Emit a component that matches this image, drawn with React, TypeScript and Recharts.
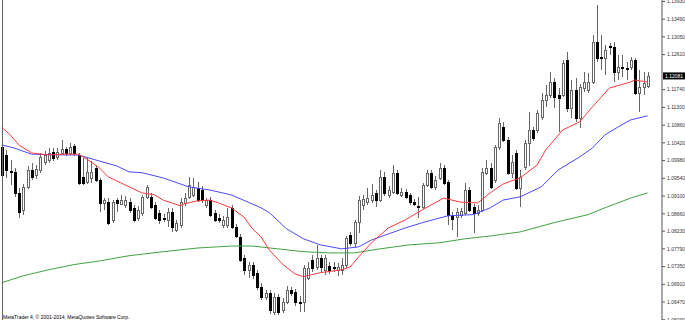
import { ComposedChart, Bar, Line, XAxis, YAxis, ReferenceLine } from 'recharts'

// daily candles, oldest first
const opens = [
  1.1032, 1.1012, 1.0973, 1.0970, 1.0918, 1.0876, 1.0933, 1.0975, 1.0963, 1.0975,
  1.0995, 1.1000, 1.1019, 1.1007, 1.1017, 1.1027, 1.1017, 1.1034, 1.1012, 1.0958,
  1.0945, 1.0955, 1.0980, 1.0950, 1.0893, 1.0895, 1.0851, 1.0900, 1.0890, 1.0888,
  1.0895, 1.0881, 1.0856, 1.0869, 1.0908, 1.0908, 1.0888, 1.0869, 1.0856, 1.0851,
  1.0871, 1.0826, 1.0839, 1.0893, 1.0908, 1.0913, 1.0930, 1.0925, 1.0888, 1.0900,
  1.0869, 1.0856, 1.0839, 1.0839, 1.0881, 1.0834, 1.0809, 1.0757, 1.0727, 1.0740,
  1.0720, 1.0685, 1.0660, 1.0670, 1.0623, 1.0660, 1.0628, 1.0646, 1.0677, 1.0672,
  1.0648, 1.0646, 1.0707, 1.0752, 1.0735, 1.0757, 1.0727, 1.0737, 1.0735, 1.0727,
  1.0727, 1.0740, 1.0814, 1.0794, 1.0846, 1.0888, 1.0895, 1.0900, 1.0918, 1.0900,
  1.0958, 1.0913, 1.0920, 1.0968, 1.0913, 1.0920, 1.0913, 1.0895, 1.0886, 1.0883,
  1.0938, 1.0968, 1.0933, 1.0955, 1.0980, 1.0945, 1.0864, 1.0859, 1.0864, 1.0869,
  1.0925, 1.0883, 1.0869, 1.0876, 1.0968, 1.0980, 1.0950, 1.1032, 1.1081, 1.1049,
  1.0968, 1.1017, 1.0930, 1.0983, 1.1042, 1.1074, 1.1074, 1.1106, 1.1148, 1.1161,
  1.1193, 1.1161, 1.1161, 1.1247, 1.1129, 1.1173, 1.1104, 1.1178, 1.1173, 1.1193,
  1.1292, 1.1255, 1.1252, 1.1282, 1.1279, 1.1218, 1.1230, 1.1228, 1.1230, 1.1247,
  1.1166, 1.1181, 1.1183,
]
const closes = [
  1.0963, 1.0975, 1.0970, 1.0918, 1.0871, 1.0933, 1.0975, 1.0958, 1.0978, 1.1007,
  1.1012, 1.1017, 1.1005, 1.1019, 1.1027, 1.1017, 1.1032, 1.1017, 1.0943, 1.0943,
  1.0970, 1.0970, 1.0950, 1.0893, 1.0900, 1.0844, 1.0895, 1.0893, 1.0900, 1.0900,
  1.0876, 1.0851, 1.0876, 1.0908, 1.0933, 1.0883, 1.0856, 1.0851, 1.0854, 1.0871,
  1.0834, 1.0844, 1.0895, 1.0905, 1.0938, 1.0933, 1.0900, 1.0900, 1.0900, 1.0864,
  1.0851, 1.0851, 1.0851, 1.0859, 1.0834, 1.0811, 1.0752, 1.0727, 1.0740, 1.0715,
  1.0685, 1.0660, 1.0670, 1.0628, 1.0660, 1.0623, 1.0646, 1.0677, 1.0670, 1.0646,
  1.0646, 1.0732, 1.0732, 1.0732, 1.0757, 1.0735, 1.0757, 1.0727, 1.0732, 1.0735,
  1.0740, 1.0806, 1.0794, 1.0846, 1.0900, 1.0903, 1.0905, 1.0913, 1.0900, 1.0958,
  1.0918, 1.0925, 1.0968, 1.0918, 1.0920, 1.0908, 1.0895, 1.0890, 1.0883, 1.0938,
  1.0968, 1.0933, 1.0950, 1.0980, 1.0943, 1.0864, 1.0854, 1.0871, 1.0873, 1.0925,
  1.0876, 1.0869, 1.0876, 1.0970, 1.0980, 1.0933, 1.1032, 1.1091, 1.1049, 1.0968,
  1.0995, 1.0930, 1.0958, 1.1042, 1.1074, 1.1054, 1.1116, 1.1148, 1.1161, 1.1193,
  1.1156, 1.1153, 1.1240, 1.1129, 1.1173, 1.1104, 1.1181, 1.1193, 1.1193, 1.1292,
  1.1252, 1.1252, 1.1272, 1.1279, 1.1218, 1.1230, 1.1228, 1.1225, 1.1247, 1.1166,
  1.1181, 1.1190, 1.1208,
]
const highs = [
  1.1042, 1.1024, 1.1000, 1.0980, 1.0930, 1.0940, 1.0985, 1.0993, 1.0988, 1.1017,
  1.1022, 1.1029, 1.1029, 1.1029, 1.1049, 1.1032, 1.1042, 1.1039, 1.1017, 1.1005,
  1.1005, 1.0998, 1.0985, 1.0955, 1.0905, 1.0905, 1.0900, 1.0905, 1.0912, 1.0910,
  1.0905, 1.0888, 1.0886, 1.0912, 1.0938, 1.0918, 1.0895, 1.0876, 1.0866, 1.0881,
  1.0881, 1.0851, 1.0905, 1.0918, 1.0958, 1.0955, 1.0945, 1.0935, 1.0905, 1.0908,
  1.0876, 1.0866, 1.0861, 1.0881, 1.0888, 1.0841, 1.0816, 1.0764, 1.0747, 1.0747,
  1.0727, 1.0695, 1.0677, 1.0677, 1.0670, 1.0667, 1.0658, 1.0687, 1.0685, 1.0680,
  1.0662, 1.0740, 1.0747, 1.0764, 1.0788, 1.0764, 1.0764, 1.0747, 1.0747, 1.0745,
  1.0757, 1.0811, 1.0821, 1.0851, 1.0910, 1.0913, 1.0930, 1.0940, 1.0925, 1.0975,
  1.0970, 1.0935, 1.0988, 1.0975, 1.0930, 1.0928, 1.0918, 1.0903, 1.0908, 1.0943,
  1.0975, 1.0975, 1.0960, 1.0993, 1.0988, 1.0950, 1.0871, 1.0881, 1.0881, 1.0943,
  1.0933, 1.0890, 1.0888, 1.0980, 1.1000, 1.0993, 1.1037, 1.1104, 1.1094, 1.1056,
  1.1012, 1.1024, 1.0975, 1.1049, 1.1119, 1.1081, 1.1124, 1.1166, 1.1186, 1.1218,
  1.1203, 1.1178, 1.1247, 1.1267, 1.1198, 1.1203, 1.1188, 1.1218, 1.1215, 1.1309,
  1.1384, 1.1309, 1.1284, 1.1289, 1.1292, 1.1260, 1.1260, 1.1242, 1.1255, 1.1252,
  1.1223, 1.1218, 1.1218,
]
const lows = [
  1.0955, 1.0955, 1.0938, 1.0908, 1.0856, 1.0864, 1.0928, 1.0950, 1.0953, 1.0968,
  1.0988, 1.0993, 1.0998, 1.1000, 1.1012, 1.1010, 1.1012, 1.1010, 1.0938, 1.0938,
  1.0940, 1.0943, 1.0945, 1.0871, 1.0876, 1.0839, 1.0844, 1.0871, 1.0888, 1.0881,
  1.0869, 1.0846, 1.0849, 1.0861, 1.0903, 1.0878, 1.0851, 1.0841, 1.0846, 1.0834,
  1.0821, 1.0821, 1.0831, 1.0886, 1.0903, 1.0908, 1.0895, 1.0893, 1.0881, 1.0859,
  1.0846, 1.0844, 1.0831, 1.0831, 1.0829, 1.0806, 1.0747, 1.0715, 1.0707, 1.0705,
  1.0677, 1.0653, 1.0653, 1.0618, 1.0616, 1.0616, 1.0621, 1.0641, 1.0662, 1.0638,
  1.0623, 1.0623, 1.0702, 1.0722, 1.0727, 1.0722, 1.0715, 1.0717, 1.0722, 1.0712,
  1.0715, 1.0732, 1.0786, 1.0781, 1.0818, 1.0876, 1.0888, 1.0893, 1.0883, 1.0895,
  1.0910, 1.0905, 1.0915, 1.0913, 1.0908, 1.0903, 1.0888, 1.0886, 1.0856, 1.0878,
  1.0933, 1.0928, 1.0925, 1.0950, 1.0938, 1.0839, 1.0826, 1.0809, 1.0856, 1.0864,
  1.0871, 1.0818, 1.0861, 1.0871, 1.0963, 1.0928, 1.0943, 1.1024, 1.1044, 1.0963,
  1.0955, 1.0925, 1.0883, 1.0975, 1.0985, 1.1047, 1.1067, 1.1099, 1.1131, 1.1153,
  1.1129, 1.1069, 1.1156, 1.1119, 1.1104, 1.1094, 1.1079, 1.1168, 1.1166, 1.1188,
  1.1242, 1.1223, 1.1210, 1.1260, 1.1193, 1.1198, 1.1205, 1.1198, 1.1223, 1.1161,
  1.1119, 1.1161, 1.1178,
]

// moving averages, read at these candle positions
const redAt = [0, 2, 4, 7, 11, 15, 18, 20, 23, 25, 28, 30, 33, 36, 38, 40, 42, 43, 46, 49, 51, 54, 57, 59, 61, 63, 66, 69, 71, 75, 80, 82, 84, 87, 91, 95, 99, 104, 108, 112, 115, 118, 122, 126, 128, 130, 132, 136, 139, 143, 148, 149, 152]
const redMa = [1.1081, 1.1062, 1.1037, 1.1017, 1.1012, 1.1014, 1.1014, 1.1002, 1.0980, 1.0958, 1.0943, 1.0933, 1.0918, 1.0913, 1.0900, 1.0893, 1.0886, 1.0891, 1.0898, 1.0900, 1.0893, 1.0881, 1.0858, 1.0829, 1.0809, 1.0776, 1.0742, 1.0717, 1.0710, 1.0720, 1.0727, 1.0734, 1.0759, 1.0794, 1.0831, 1.0851, 1.0876, 1.0905, 1.0895, 1.0893, 1.0918, 1.0940, 1.0955, 1.0987, 1.1024, 1.1049, 1.1074, 1.1094, 1.1131, 1.1178, 1.1193, 1.1198, 1.1193]
const blueAt = [0, 3, 7, 15, 18, 22, 27, 30, 33, 38, 44, 49, 54, 58, 61, 63, 67, 71, 75, 80, 84, 87, 91, 95, 99, 105, 111, 115, 118, 122, 127, 131, 136, 139, 142, 145, 148, 152]
const blueMa = [1.1037, 1.1029, 1.1014, 1.1012, 1.1012, 1.1000, 1.0985, 1.0970, 1.0968, 1.0955, 1.0933, 1.0925, 1.0913, 1.0895, 1.0881, 1.0869, 1.0829, 1.0804, 1.0789, 1.0779, 1.0784, 1.0801, 1.0816, 1.0831, 1.0844, 1.0861, 1.0864, 1.0881, 1.0900, 1.0908, 1.0933, 1.0975, 1.1007, 1.1029, 1.1062, 1.1081, 1.1099, 1.1109]
const greenAt = [0, 5, 11, 17, 23, 30, 38, 46, 54, 59, 65, 71, 77, 83, 89, 96, 103, 109, 115, 122, 130, 138, 142, 148, 152]
const greenMa = [1.0695, 1.0712, 1.0727, 1.0740, 1.0749, 1.0762, 1.0772, 1.0781, 1.0786, 1.0786, 1.0779, 1.0772, 1.0769, 1.0769, 1.0779, 1.0789, 1.0794, 1.0804, 1.0811, 1.0821, 1.0844, 1.0864, 1.0881, 1.0905, 1.0918]

// 1.12170 sits under the last-price box, so it is left out
const priceTicks = [1.1393, 1.1349, 1.1305, 1.1261, 1.1174, 1.113, 1.1086, 1.1042, 1.0998, 1.0954, 1.091, 1.0866, 1.0823, 1.0779, 1.0735, 1.0691, 1.0647, 1.0603]
const lastPrice = 1.12081

const candles = opens.map((o, i) => ({
  idx: i,
  open: o,
  close: closes[i],
  high: highs[i],
  low: lows[i],
  range: [lows[i], highs[i]],
}))
const redLine = redAt.map((i, k) => ({ idx: i, v: redMa[k] }))
const blueLine = blueAt.map((i, k) => ({ idx: i, v: blueMa[k] }))
const greenLine = greenAt.map((i, k) => ({ idx: i, v: greenMa[k] }))

function Candle(props: any) {
  const { x, y, width, height, payload } = props
  if (payload == null || x == null) return null
  const top = Math.min(y, y + height)
  const h = Math.abs(height)
  const span = payload.high - payload.low
  const toY = (p: number) => (span === 0 ? top : top + ((payload.high - p) / span) * h)
  const cx = Math.round(x + width / 2) + 0.5
  const oy = toY(payload.open)
  const cy = toY(payload.close)
  const bt = Math.round(Math.min(oy, cy)) + 0.5
  const bb = Math.max(Math.round(Math.max(oy, cy)) + 0.5, bt + 1)
  const bull = payload.close >= payload.open
  return (
    <g>
      <line x1={cx} x2={cx} y1={Math.round(top)} y2={Math.round(top + h)} stroke="#666" strokeWidth={1} />
      <rect
        x={cx - 1}
        y={bt}
        width={2}
        height={bb - bt}
        fill={bull ? '#fff' : '#000'}
        stroke={bull ? '#666' : '#000'}
        strokeWidth={1}
      />
    </g>
  )
}

function PriceBox(props: any) {
  const vb = props.viewBox
  if (!vb) return null
  const bx = vb.x + vb.width + 1
  return (
    <g>
      <rect x={bx} y={vb.y - 3.5} width={23} height={7} fill="#000" />
      <text x={bx + 2} y={vb.y + 2} fontSize={5} fill="#fff" fontFamily="Liberation Sans, Arial, sans-serif">
        {lastPrice.toFixed(5)}
      </text>
    </g>
  )
}

export default function App() {
  return (
    <div style={{ position: 'absolute', left: 0, top: 0, width: 685, height: 320, background: '#fff' }}>
      <ComposedChart width={685} height={320} data={candles} margin={{ top: 0, right: 0, bottom: 0, left: 0 }}>
        <XAxis type="number" dataKey="idx" domain={[-0.4, 155.4]} hide allowDataOverflow />
        <YAxis
          orientation="right"
          width={23}
          domain={[1.06025, 1.13965]}
          ticks={priceTicks}
          allowDataOverflow
          interval={0}
          tickFormatter={(v: number) => v.toFixed(5)}
          tick={{ fontSize: 5, fill: '#333', fontFamily: 'Liberation Sans, Arial, sans-serif' }}
          tickSize={3}
          tickMargin={2}
          stroke="#555"
        />
        <Bar dataKey="range" barSize={3} shape={Candle} isAnimationActive={false} />
        <Line data={greenLine} type="linear" dataKey="v" stroke="#3fa33f" strokeWidth={1} dot={false} activeDot={false} isAnimationActive={false} />
        <Line data={blueLine} type="linear" dataKey="v" stroke="#4a4aff" strokeWidth={1} dot={false} activeDot={false} isAnimationActive={false} />
        <Line data={redLine} type="linear" dataKey="v" stroke="#ff3b3b" strokeWidth={1} dot={false} activeDot={false} isAnimationActive={false} />
        <ReferenceLine y={lastPrice} stroke="none" label={<PriceBox />} />
      </ComposedChart>
      <svg width={685} height={320} style={{ position: 'absolute', left: 0, top: 0, pointerEvents: 'none' }}>
        <line x1={2.5} x2={2.5} y1={0} y2={320} stroke="#666" strokeWidth={1} />
        <text x={3} y={319} fontSize={5} fill="#000" fontFamily="Liberation Sans, Arial, sans-serif">
          MetaTrader 4, © 2001-2014, MetaQuotes Software Corp.
        </text>
      </svg>
    </div>
  )
}
